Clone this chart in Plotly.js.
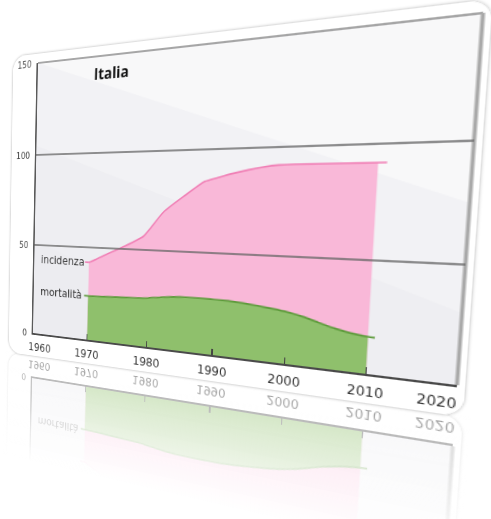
<!DOCTYPE html>
<html><head><meta charset="utf-8">
<script src="https://cdn.plot.ly/plotly-3.0.1.min.js"></script>
<style>
html,body{margin:0;padding:0;background:#fff;width:491px;height:519px;overflow:hidden;}
.wrap{position:absolute;left:0;top:0;width:470px;height:336px;transform-origin:0 0;}
.card{position:absolute;left:0;top:0;width:470px;height:336px;border-radius:16px;overflow:hidden;background:#fff;box-shadow:0 0 3px rgba(0,0,0,0.35);}
#reflCard{opacity:0.5;}
.fade{position:absolute;left:-6px;top:-6px;width:482px;height:348px;background:linear-gradient(to bottom,#fff 0%,#fff 63%,rgba(255,255,255,0.4) 86%,rgba(255,255,255,0) 100%);}
</style></head>
<body>
<div id="reflWrap" class="wrap"><div class="card" id="reflCard"><div id="refl"></div></div><div class="fade"></div></div>
<div id="mainWrap" class="wrap"><div class="card"><div id="chart"></div></div></div>
<script>
// ---- data ----
const chartTitle = 'Italia';
const seriesLabels = ['incidenza', 'mortalità'];
const years = [1970,1973,1976,1979,1980,1982,1985,1988,1990,1992,1994,1996,1998,2000,2002,2004,2006,2008,2010];
const incidenza = [42,46.8,51.5,57,61,69.5,77.4,84.6,86.5,88.3,89.8,91,91.8,92,92,92,92,92,92];
const mortalita = [23.8,24.2,24.7,25.1,25.4,26.4,27.3,27.5,27.4,27.3,26.8,26.1,25.3,24.3,22.8,20.8,18.8,17.3,16.5];
const lineStartYear = 1969.3;
const incidenzaEnd = {year: 2011, value: 92};
const mortalitaEnd = {year: 2010.8, value: 16.3};
const xTicks = [1960,1970,1980,1990,2000,2010,2020];
const xTickLabels = ['1960','1970','1980','1990','2000','2010','2020'];
const yTicks = [0,50,100,150];
const yTickLabels = ['0','50','100','150'];
const gridValues = [50,100];

// ---- flat chart geometry ----
const W = 470, H = 336;
const M = {l:34, r:6, t:10, b:26};
const PW = W - M.l - M.r, PH = H - M.t - M.b;

const FONT = 'DejaVu Sans, Verdana, sans-serif';

function buildFigure(isReflection){
  const traces = [
    {x: years, y: incidenza, type:'scatter', mode:'none', fill:'tozeroy',
     fillcolor:'#f9b8d8', line:{shape:'spline', smoothing:0.5}, hoverinfo:'skip'},
    {x: years, y: mortalita, type:'scatter', mode:'none', fill:'tozeroy',
     fillcolor:'#8fc06c', line:{shape:'spline', smoothing:0.5}, hoverinfo:'skip'},
    {x: [lineStartYear].concat(years, [incidenzaEnd.year]),
     y: [incidenza[0]].concat(incidenza, [incidenzaEnd.value]),
     type:'scatter', mode:'lines', line:{color:'#f07fb5', width:1.6, shape:'spline', smoothing:0.5}, hoverinfo:'skip'},
    {x: [lineStartYear].concat(years, [mortalitaEnd.year]),
     y: [mortalita[0]].concat(mortalita, [mortalitaEnd.value]),
     type:'scatter', mode:'lines', line:{color:'#5c9a3a', width:1.6, shape:'spline', smoothing:0.5}, hoverinfo:'skip'}
  ];
  const shapes = [
    {type:'path', xref:'paper', yref:'paper', layer:'below', path:'M0,1 L1,1 L1,0.5 Z',
     fillcolor:'rgba(255,255,255,0.62)', line:{width:0}},
    {type:'path', xref:'paper', yref:'paper', layer:'below', path:'M0,1 L1,0.5 L1,0.2 L0,0.7 Z',
     fillcolor:'rgba(255,255,255,0.35)', line:{width:0}},
    {type:'path', xref:'paper', yref:'paper', layer:'below', path:'M0,0.7 L1,0.2 L1,0 L0.7,0 L0,0.35 Z',
     fillcolor:'rgba(255,255,255,0.15)', line:{width:0}},
    {type:'line', xref:'paper', yref:'paper', x0:0, x1:1, y0:1, y1:1, layer:'above', line:{color:'#8a8a8a', width:1.5}},
    {type:'line', xref:'paper', yref:'paper', x0:1, x1:1, y0:0, y1:1, layer:'above', line:{color:'#a9a9a9', width:3}}
  ];
  gridValues.forEach(v => shapes.push({type:'line', xref:'paper', yref:'y', x0:0, x1:1, y0:v, y1:v,
    layer:'above', line:{color:'#6a6a6a', width:1.3}}));

  const annotations = [];
  if (!isReflection) {
    annotations.push({x:1969.7, y:141, xref:'x', yref:'y', text:chartTitle, showarrow:false, xanchor:'left', yanchor:'middle',
      font:{family:'Open Sans, DejaVu Sans, sans-serif', size:16, color:'#111', weight:700}});
    annotations.push({x:1961, y:incidenza[0], xref:'x', yref:'y', text:seriesLabels[0], showarrow:false, xanchor:'left', yanchor:'middle',
      font:{family:FONT, size:12, color:'#333'}});
  }
  annotations.push({x:1961, y:mortalita[0], xref:'x', yref:'y', text:seriesLabels[1], showarrow:false, xanchor:'left', yanchor:'middle',
    font:{family:FONT, size:12, color:'#333'}});
  xTicks.forEach((t,i) => {
    let shift = 0;
    if (i === 0) shift = 9;
    if (i === xTicks.length - 1) shift = -15;
    annotations.push({x:t, y:0, xref:'x', yref:'y', text:xTickLabels[i], showarrow:false,
      xanchor:'center', yanchor:'middle', yshift:-16, xshift:shift,
      font:{family:FONT, size:12, color:'#333'}});
  });

  const layout = {
    width:W, height:H,
    margin:{l:M.l, r:M.r, t:M.t, b:M.b, pad:0},
    paper_bgcolor:'#ffffff', plot_bgcolor:'#ececf0',
    showlegend:false,
    xaxis:{range:[1960,2020], tickvals:xTicks, ticktext:xTickLabels, showticklabels:false,
      ticks:'inside', ticklen:6, tickwidth:1.2, tickcolor:'#444',
      showgrid:false, zeroline:false, showline:true, linecolor:'#4a4a4a', linewidth:1.6, automargin:false},
    yaxis:{range:[0,150], tickvals: isReflection ? [yTicks[0]] : yTicks,
      ticktext: isReflection ? [yTickLabels[0]] : yTickLabels,
      ticks:'outside', ticklen:5, tickcolor:'rgba(0,0,0,0)',
      tickfont:{family:FONT, size:10, color:'#444'},
      showgrid:false, zeroline:false, showline:true, linecolor:'#5a5a5a', linewidth:1.6, automargin:false},
    shapes:shapes, annotations:annotations
  };
  return {data:traces, layout:layout};
}

// ---- perspective (homography) ----
function squareToQuad(p){
  const [x0,y0]=p[0],[x1,y1]=p[1],[x2,y2]=p[2],[x3,y3]=p[3];
  const dx1=x1-x2, dx2=x3-x2, dx3=x0-x1+x2-x3;
  const dy1=y1-y2, dy2=y3-y2, dy3=y0-y1+y2-y3;
  const den=dx1*dy2-dx2*dy1;
  const g=(dx3*dy2-dx2*dy3)/den, h=(dx1*dy3-dx3*dy1)/den;
  return [[x1-x0+g*x1, x3-x0+h*x3, x0],[y1-y0+g*y1, y3-y0+h*y3, y0],[g,h,1]];
}
function mul(A,B){
  const C=[[0,0,0],[0,0,0],[0,0,0]];
  for(let i=0;i<3;i++)for(let j=0;j<3;j++)for(let k=0;k<3;k++)C[i][j]+=A[i][k]*B[k][j];
  return C;
}
function css(m){
  return 'matrix3d('+[m[0][0],m[1][0],0,m[2][0], m[0][1],m[1][1],0,m[2][1], 0,0,1,0, m[0][2],m[1][2],0,m[2][2]].join(',')+')';
}
const quad = [[38,63],[483,13],[457,385],[33,333]];
const Q = squareToQuad(quad);
const S = [[1/PW,0,-M.l/PW],[0,1/PH,-M.t/PH],[0,0,1]];
const Hm = mul(Q,S);
const F = [[1,0,0],[0,-1,2*H],[0,0,1]];
const Hr = mul(Hm,F);

const cfg = {staticPlot:true, displayModeBar:false};
const f1 = buildFigure(false), f2 = buildFigure(true);
Promise.all([
  Plotly.newPlot('chart', f1.data, f1.layout, cfg),
  Plotly.newPlot('refl', f2.data, f2.layout, cfg)
]).then(()=>{
  document.getElementById('mainWrap').style.transform = css(Hm);
  document.getElementById('reflWrap').style.transform = css(Hr);
});
</script>
</body></html>
